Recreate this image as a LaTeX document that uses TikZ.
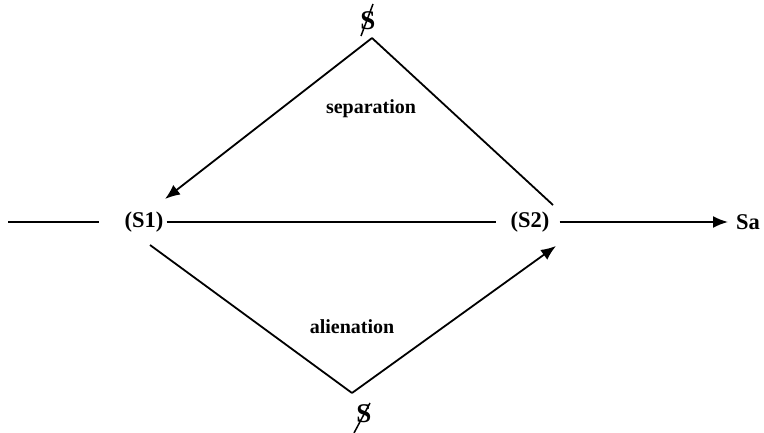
\documentclass[tikz,border=0pt]{standalone}
\usepackage{fontspec}
\setmainfont{Liberation Serif}
\usetikzlibrary{arrows.meta,calc}
\begin{document}
\begin{tikzpicture}[x=1pt,y=-1pt,
  lbl/.style={font=\fontsize{20}{24}\selectfont\bfseries, inner sep=0pt},
  big/.style={font=\fontsize{22.5}{26}\selectfont\bfseries, inner sep=0pt},
  bars/.style={font=\fontsize{27}{30}\selectfont\bfseries, inner sep=0pt},
  ln/.style={line width=1.8pt},
  arr/.style={ln, -{Latex[length=15pt,width=12pt]}}]
\useasboundingbox (0,0) rectangle (764,433);
% nodes
\node[big] (s1) at (144,222) {(S1)};
\node[big] (s2) at (530,222) {(S2)};
\node[big, anchor=west] (sa) at (736,222) {Sa};
\node[lbl] (sep) at (371,109) {separation};
\node[lbl] (ali) at (352,327) {alienation};
\node[bars] (ts) at (368,21) {S};
\node[bars] (bs) at (364,414) {S};
\coordinate (lend) at (8,222);
\coordinate (top) at (372,38);
\coordinate (bot) at (352,393);
\coordinate (s1ne) at (165,199);
\coordinate (s2nw) at (553,205);
\coordinate (s1se) at (150,245);
\coordinate (s2sw) at (556,246);
% bars on S
\draw[line width=1.5pt] ($(ts.center)+(-7,15)$) -- ($(ts.center)+(5,-17)$);
\draw[line width=1.5pt] ($(bs.center)+(-10,19)$) -- ($(bs.center)+(6,-11)$);
% connectors
\draw[ln] (lend) -- ($(s1.west)+(-25,0)$);
\draw[ln] ($(s1.east)+(3,0)$) -- ($(s2.west)+(-14,0)$);
\draw[arr] ($(s2.east)+(10,0)$) -- ($(sa.west)+(-8,0)$);
\draw[arr] (top) -- (s1ne);
\draw[ln] (top) -- (s2nw);
\draw[ln] (s1se) -- (bot);
\draw[arr] (bot) -- (s2sw);
\end{tikzpicture}
\end{document}
